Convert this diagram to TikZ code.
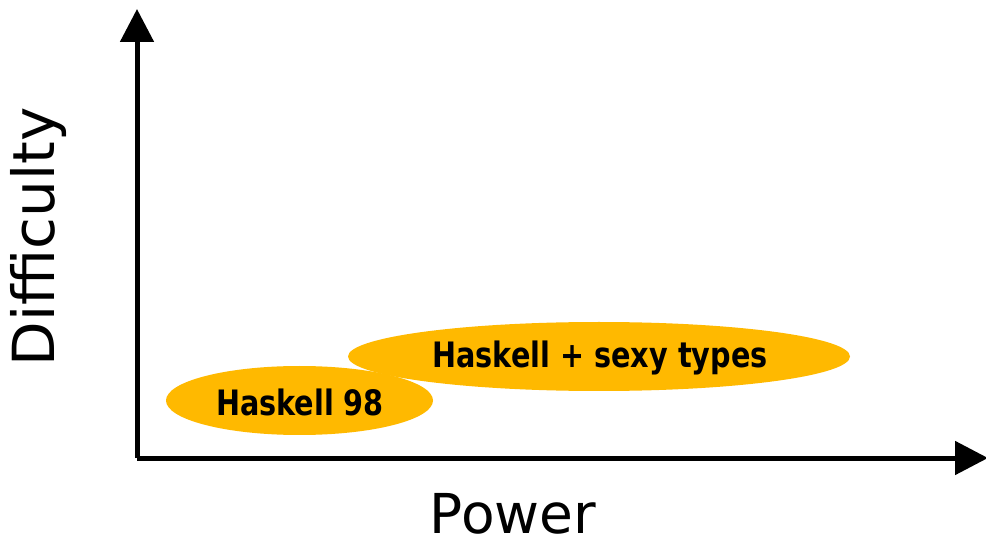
\documentclass[tikz,border=0pt]{standalone}
\usepackage{fontspec}
\setmainfont{DejaVu Sans}
\newfontfamily\labfont[FakeStretch=0.82]{DejaVu Sans Bold}
\usetikzlibrary{arrows.meta,shapes.geometric}
\definecolor{gold}{RGB}{255,185,0}
\tikzset{
  axisline/.style={line width=5pt,-{Triangle[length=33pt,width=33pt]}},
  blob/.style={fill=gold,draw=none},
  blobtext/.style={font=\labfont\fontsize{35}{38}\selectfont,inner sep=0pt},
  axtext/.style={font=\fontsize{58}{62}\selectfont,inner sep=0pt},
  powtext/.style={font=\fontsize{55}{60}\selectfont,inner sep=0pt}
}
\begin{document}
\begin{tikzpicture}[x=1pt,y=-1pt]
\useasboundingbox (0,0) rectangle (986,545);
\coordinate (o) at (137,458);
\coordinate (ytip) at (137,9);
\coordinate (xtip) at (988,458);
\draw[axisline] (o) -- (ytip);
\draw[axisline] (o) -- (xtip);
\fill[blob] (299.5,400.5) ellipse [x radius=133.5, y radius=34.5];
\fill[blob] (599,356.5) ellipse [x radius=251, y radius=34.5];
\node[blobtext] (h98) at (300,402) {Haskell 98};
\node[blobtext] (hst) at (600,358) {Haskell + sexy types};
\node[axtext,rotate=90] (diff) at (38,237) {Difficulty};
\node[powtext] (pow) at (513,514) {Power};
\end{tikzpicture}
\end{document}
